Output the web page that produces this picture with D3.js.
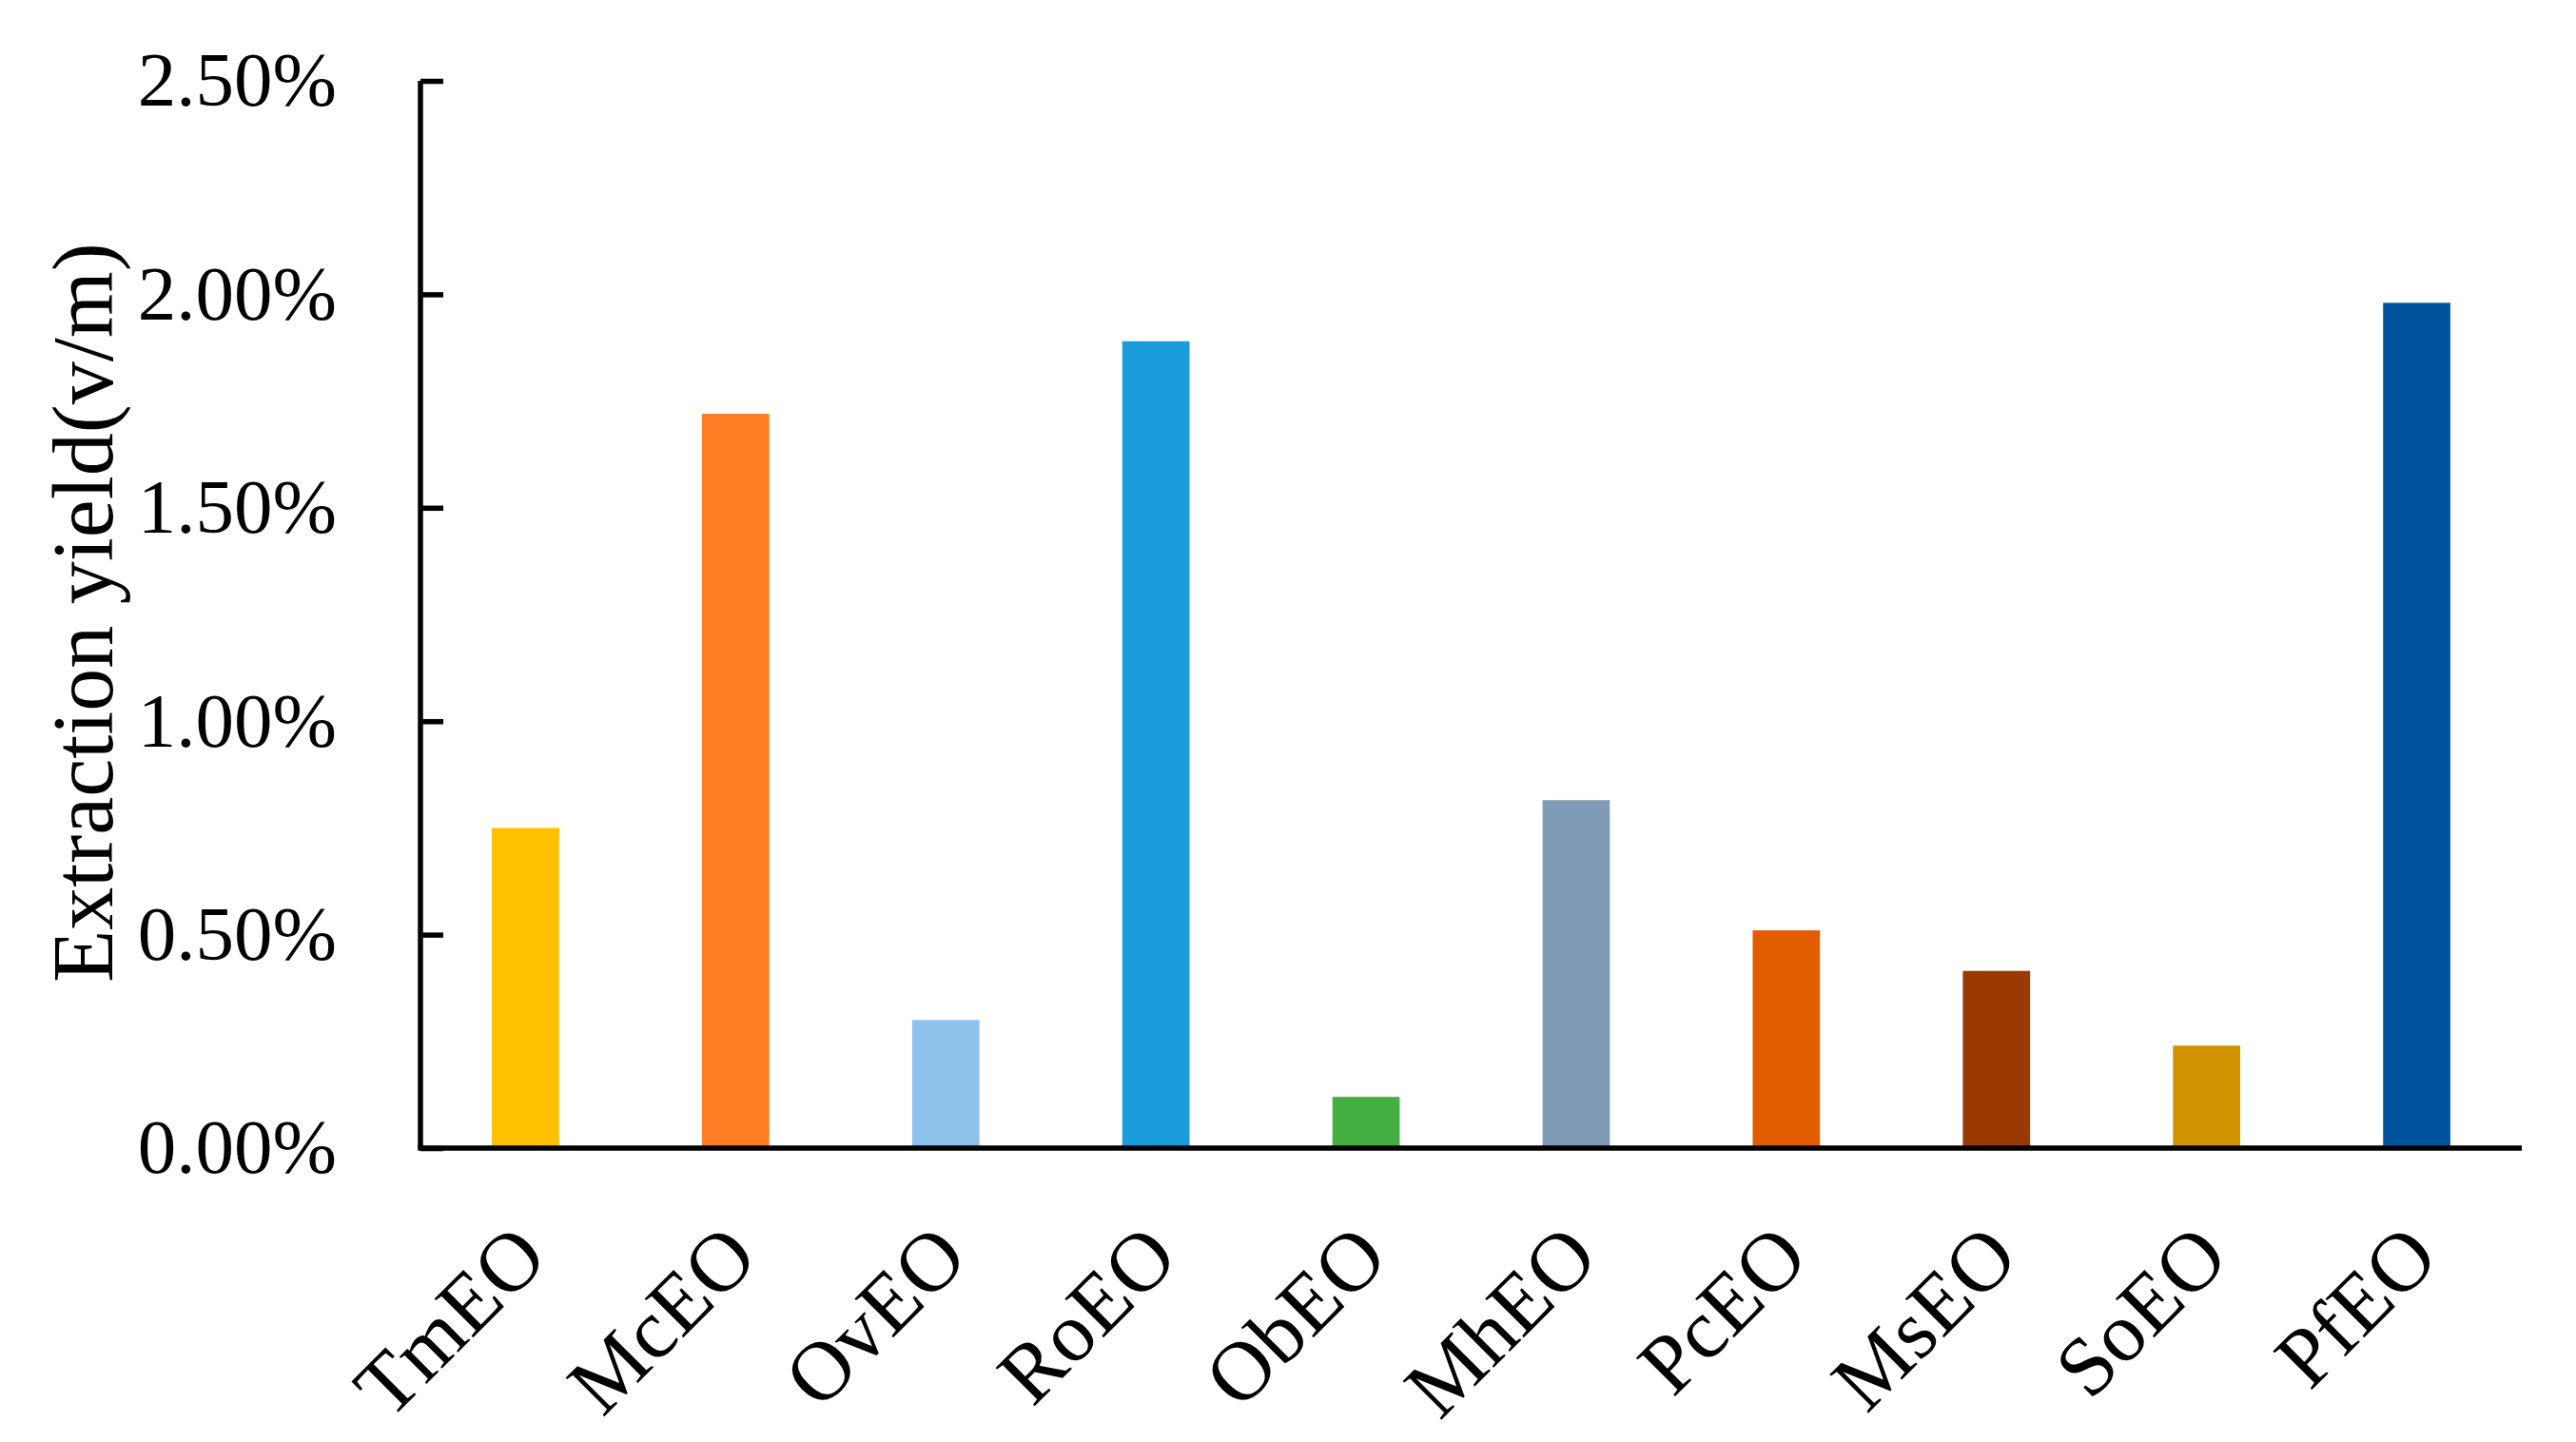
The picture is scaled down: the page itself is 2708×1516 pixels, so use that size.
<!DOCTYPE html>
<html>
<head>
<meta charset="utf-8">
<script src="https://cdn.jsdelivr.net/npm/d3@7"></script>
<style>
  body { margin: 0; background: #fff; }
  svg text { font-family: "Liberation Serif", "DejaVu Serif", serif; fill: #000; }
</style>
</head>
<body>
<svg width="2708" height="1516"></svg>
<script>
// chart data
var categories = ["TmEO", "McEO", "OvEO", "RoEO", "ObEO", "MhEO", "PcEO", "MsEO", "SoEO", "PfEO"];
var yields = [0.75, 1.72, 0.30, 1.89, 0.12, 0.815, 0.51, 0.415, 0.24, 1.98];
var barColors = ["#FFC000", "#FD7E23", "#8DC3EA", "#1A9CDB", "#46AF42", "#7F9BB5", "#E35C00", "#9A3A00", "#D19400", "#00549E"];
var yTicks = [0, 0.5, 1.0, 1.5, 2.0, 2.5];

var svg = d3.select("svg"),
    margin = {top: 85, right: 57, bottom: 309, left: 442},
    width = +svg.attr("width") - margin.left - margin.right,
    height = +svg.attr("height") - margin.top - margin.bottom;

var x = d3.scaleBand().domain(categories).range([0, width]).paddingInner(0.68).paddingOuter(0.34),
    y = d3.scaleLinear().domain([0, 2.5]).range([height, 0]);

var g = svg.append("g")
    .attr("transform", "translate(" + margin.left + "," + margin.top + ")");

g.selectAll(".bar")
  .data(categories)
  .enter().append("rect")
    .attr("class", "bar")
    .attr("x", function(d) { return x(d); })
    .attr("y", function(d, i) { return y(yields[i]); })
    .attr("width", x.bandwidth())
    .attr("height", function(d, i) { return height - y(yields[i]); })
    .attr("fill", function(d, i) { return barColors[i]; });

// y axis, ticks point inward
var yAxis = g.append("g")
    .attr("class", "axis axis--y")
    .call(d3.axisLeft(y).tickValues(yTicks).tickSize(-24).tickPadding(88)
      .tickFormat(function(d) { return d.toFixed(2) + "%"; }));
yAxis.select(".domain").attr("stroke", "#000").attr("stroke-width", 5.5)
    .attr("d", "M0," + y(2.5) + "V" + height);
yAxis.selectAll(".tick line").attr("stroke", "#000").attr("stroke-width", 5.5);
yAxis.selectAll(".tick text").attr("font-size", 81).style("font-family", "Liberation Serif");

// x axis, no ticks
var xAxis = g.append("g")
    .attr("class", "axis axis--x")
    .attr("transform", "translate(0," + height + ")")
    .call(d3.axisBottom(x).tickSize(0).tickFormat(""));
xAxis.select(".domain").attr("stroke", "#000").attr("stroke-width", 5.5)
    .attr("d", "M-2.75,0H" + width);

g.selectAll(".xlabel")
  .data(categories)
  .enter().append("text")
    .attr("class", "xlabel")
    .attr("text-anchor", "end")
    .attr("font-size", 88)
    .attr("transform", function(d) {
      return "translate(" + (x(d) + x.bandwidth() / 2 + 26) + "," + (height + 118) + ") rotate(-45)";
    })
    .text(function(d) { return d; });

g.append("text")
    .attr("transform", "translate(" + (90 - margin.left + 28) + "," + (644 - margin.top) + ") rotate(-90)")
    .attr("text-anchor", "middle")
    .attr("font-size", 90)
    .text("Extraction yield(v/m)");
</script>
</body>
</html>
